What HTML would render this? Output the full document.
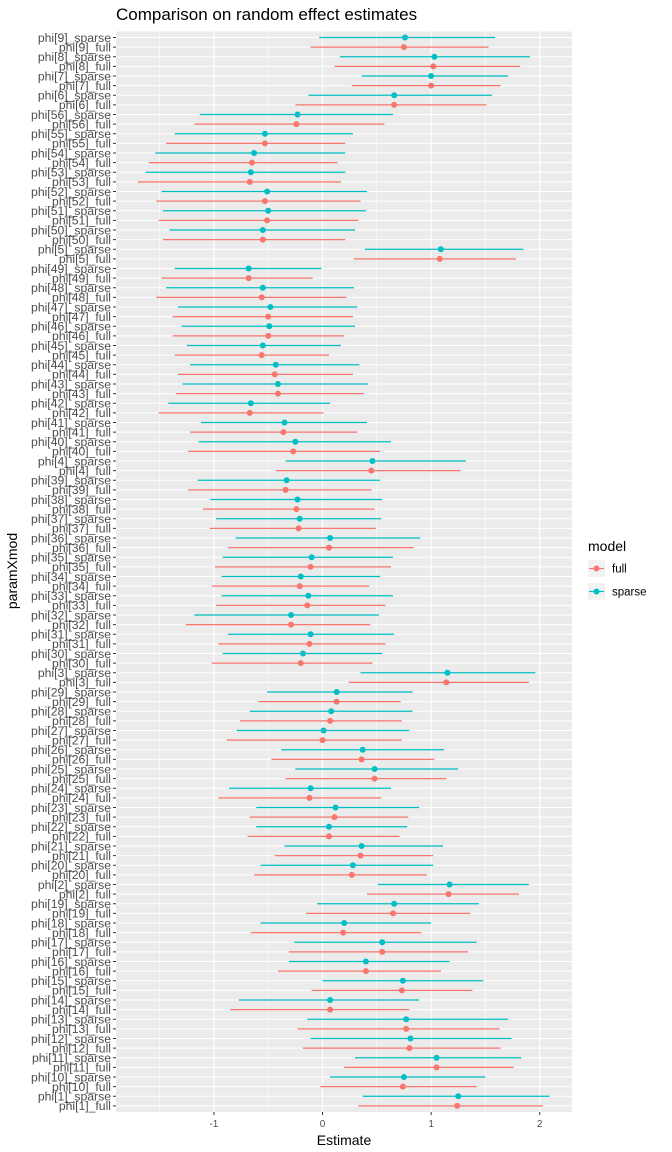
<!DOCTYPE html>
<html><head><meta charset="utf-8"><style>
html,body{margin:0;padding:0;background:#fff;}
svg{display:block;font-family:"Liberation Sans",sans-serif;}
</style></head><body>
<svg id="chart" width="672" height="1152" viewBox="0 0 672 1152" xmlns="http://www.w3.org/2000/svg">
<text x="116" y="20" font-size="17" fill="#000">Comparison on random effect estimates</text>
<g id="panel"></g>
<text x="344" y="1145" font-size="14" text-anchor="middle" fill="#000">Estimate</text>
<text transform="translate(17,571) rotate(-90)" font-size="14" text-anchor="middle" fill="#000">paramXmod</text>
<g>
<text x="588" y="551" font-size="14" fill="#000">model</text>
<g>
<rect x="588" y="560" width="17" height="17" fill="#f2f2f2"/>
<line x1="589" x2="604" y1="568.5" y2="568.5" stroke="#F8766D" stroke-width="1.2"/>
<circle cx="596.5" cy="568.5" r="3" fill="#F8766D"/>
<text x="612" y="572.5" font-size="11.5" fill="#000">full</text></g>
<g>
<rect x="588" y="583" width="17" height="17" fill="#f2f2f2"/>
<line x1="589" x2="604" y1="591.5" y2="591.5" stroke="#00BFC4" stroke-width="1.2"/>
<circle cx="596.5" cy="591.5" r="3" fill="#00BFC4"/>
<text x="612" y="595.5" font-size="11.5" fill="#000">sparse</text></g>
</g>
</svg>
<script>
const ids = [9,8,7,6,56,55,54,53,52,51,50,5,49,48,47,46,45,44,43,42,41,40,4,39,38,37,36,35,34,33,32,31,30,3,29,28,27,26,25,24,23,22,21,20,2,19,18,17,16,15,14,13,12,11,10,1];
const sparseEst = [0.76,1.03,1.00,0.66,-0.23,-0.53,-0.63,-0.66,-0.51,-0.50,-0.55,1.09,-0.68,-0.55,-0.48,-0.49,-0.55,-0.43,-0.41,-0.66,-0.35,-0.25,0.46,-0.33,-0.23,-0.21,0.07,-0.10,-0.20,-0.13,-0.29,-0.11,-0.18,1.15,0.13,0.08,0.01,0.37,0.48,-0.11,0.12,0.06,0.36,0.28,1.17,0.66,0.20,0.55,0.40,0.74,0.07,0.77,0.81,1.05,0.75,1.25];
const sparseLo = [-0.03,0.16,0.36,-0.13,-1.13,-1.36,-1.54,-1.63,-1.48,-1.47,-1.41,0.39,-1.36,-1.44,-1.33,-1.30,-1.25,-1.22,-1.29,-1.42,-1.12,-1.14,-0.34,-1.15,-1.03,-0.98,-0.80,-0.92,-0.93,-0.93,-1.18,-0.87,-0.92,0.35,-0.51,-0.67,-0.79,-0.38,-0.25,-0.86,-0.61,-0.61,-0.35,-0.57,0.51,-0.05,-0.57,-0.26,-0.31,0.00,-0.77,-0.14,-0.11,0.30,0.07,0.37];
const sparseHi = [1.59,1.91,1.71,1.56,0.65,0.28,0.21,0.21,0.41,0.40,0.30,1.85,-0.01,0.29,0.32,0.30,0.17,0.34,0.42,0.07,0.41,0.63,1.32,0.53,0.55,0.54,0.90,0.65,0.53,0.65,0.52,0.66,0.55,1.96,0.83,0.83,0.80,1.12,1.25,0.63,0.89,0.78,1.11,1.02,1.90,1.44,1.00,1.42,1.17,1.48,0.89,1.71,1.74,1.83,1.50,2.09];
const fullEst = [0.75,1.02,1.00,0.66,-0.24,-0.53,-0.65,-0.67,-0.53,-0.51,-0.55,1.08,-0.68,-0.56,-0.50,-0.50,-0.56,-0.44,-0.41,-0.67,-0.36,-0.27,0.45,-0.34,-0.24,-0.22,0.06,-0.11,-0.21,-0.14,-0.29,-0.12,-0.20,1.14,0.13,0.07,0.00,0.36,0.48,-0.12,0.11,0.06,0.35,0.27,1.16,0.65,0.19,0.55,0.40,0.73,0.07,0.77,0.80,1.05,0.74,1.24];
const fullLo = [-0.11,0.11,0.27,-0.25,-1.18,-1.44,-1.60,-1.70,-1.53,-1.51,-1.47,0.29,-1.48,-1.53,-1.38,-1.38,-1.36,-1.33,-1.35,-1.51,-1.22,-1.24,-0.43,-1.24,-1.10,-1.04,-0.87,-0.99,-1.02,-0.98,-1.26,-0.96,-1.02,0.24,-0.59,-0.76,-0.88,-0.47,-0.34,-0.96,-0.67,-0.69,-0.44,-0.63,0.41,-0.15,-0.66,-0.31,-0.41,-0.10,-0.85,-0.23,-0.18,0.20,-0.02,0.33];
const fullHi = [1.53,1.82,1.64,1.51,0.57,0.21,0.14,0.17,0.35,0.33,0.21,1.78,-0.09,0.22,0.28,0.20,0.06,0.28,0.38,0.01,0.32,0.53,1.27,0.45,0.48,0.49,0.84,0.63,0.43,0.58,0.44,0.58,0.46,1.90,0.72,0.73,0.73,1.03,1.14,0.54,0.79,0.71,1.02,0.96,1.81,1.36,0.91,1.34,1.09,1.38,0.80,1.63,1.64,1.76,1.42,2.03];
const xTicks = [-1,0,1,2];
const xMinor = [-1.5,-0.5,0.5,1.5];

const NS = "http://www.w3.org/2000/svg";
const PL = 116, PR = 572, PT = 31.5, PB = 1112;
const X0 = 322.5, XS = 108.6;
const ROW0 = 37.5, ROWS = 9.625;
function sx(v){ return X0 + v*XS; }
function sy(i){ return ROW0 + i*ROWS; }
const panel = document.getElementById('panel');
const svg = document.getElementById('chart');
function mk(tag, attrs, parent){ const e=document.createElementNS(NS,tag); for(const k in attrs) e.setAttribute(k,attrs[k]); (parent||panel).appendChild(e); return e; }

mk('rect',{x:PL,y:PT,width:PR-PL,height:PB-PT,fill:'#EBEBEB'});
xMinor.forEach(v=>{ mk('line',{x1:sx(v),x2:sx(v),y1:PT,y2:PB,stroke:'#fff','stroke-width':0.6}); });
xTicks.forEach(v=>{
  mk('line',{x1:sx(v),x2:sx(v),y1:PT,y2:PB,stroke:'#fff','stroke-width':1.1});
  mk('line',{x1:sx(v),x2:sx(v),y1:PB,y2:PB+3,stroke:'#333','stroke-width':1},svg);
  const t = mk('text',{x:sx(v),y:PB+15,'font-size':10,'text-anchor':'middle',fill:'#4d4d4d'},svg);
  t.textContent = v;
  
  
});
const labels = [];
ids.forEach(id=>{ labels.push('phi['+id+']_sparse'); labels.push('phi['+id+']_full'); });
labels.forEach((lab,i)=>{
  mk('line',{x1:PL,x2:PR,y1:sy(i),y2:sy(i),stroke:'#fff','stroke-width':1.1});
  mk('line',{x1:PL-3,x2:PL,y1:sy(i),y2:sy(i),stroke:'#333','stroke-width':1},svg);
  const t = mk('text',{x:PL-5,y:sy(i)+4.3,'font-size':12.2,'text-anchor':'end',fill:'#4d4d4d'},svg);
  t.textContent = lab;
  
  
});
function drawRow(i, est, lo, hi, col, nm){
  const l = mk('line',{x1:sx(lo),x2:sx(hi),y1:sy(i),y2:sy(i),stroke:col,'stroke-width':1.2});
  
  
  const c = mk('circle',{cx:sx(est),cy:sy(i),r:3,fill:col});
  
  
}
ids.forEach((id,k)=>{
  drawRow(2*k, sparseEst[k], sparseLo[k], sparseHi[k], '#00BFC4', 'sparse');
  drawRow(2*k+1, fullEst[k], fullLo[k], fullHi[k], '#F8766D', 'full');
});
</script>
</body></html>
